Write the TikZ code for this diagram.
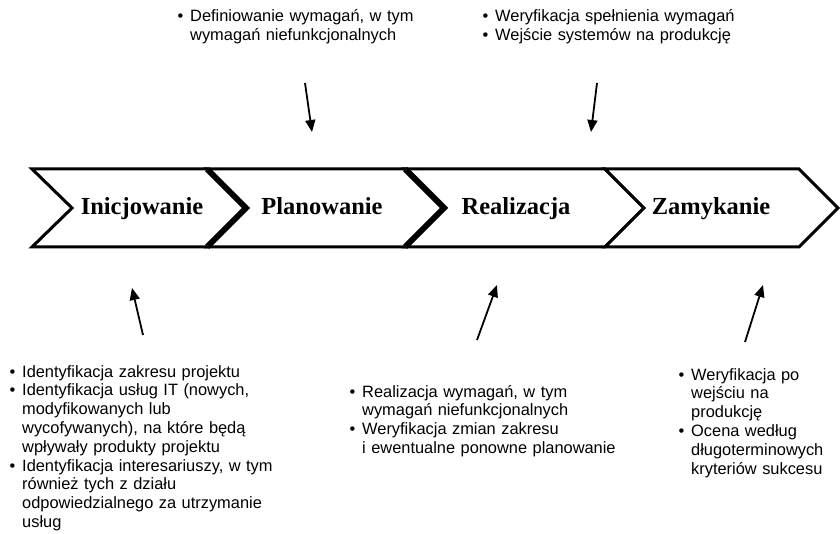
\documentclass[tikz,border=0pt]{standalone}
\usepackage{fontspec}
\setmainfont{Liberation Sans}
\newfontfamily\phasefont{Liberation Serif}
\usepackage{tikz}
\usetikzlibrary{arrows.meta}

% bullet with hanging indent (each bullet paragraph ends with \par)
\newcommand{\bul}{\hangindent=12.5pt\hangafter=1\noindent\makebox[12.5pt][l]{\textbullet}}

\begin{document}
\begin{tikzpicture}[
  x=1pt, y=-1pt,
  chev/.style={draw=black, fill=white, line width=3pt, line join=miter},
  seam/.style={draw=black, line width=6pt, line join=miter},
  phase/.style={font=\phasefont\bfseries\fontsize{24.5}{28}\selectfont, anchor=base, inner sep=0pt},
  notes/.style={anchor=base west, inner sep=0pt, text width=300pt, align=left, font=\fontsize{16.4}{18.8}\selectfont},
  arr/.style={-{Triangle[length=12pt,width=10pt]}, line width=1.8pt}
]
\useasboundingbox (0,0) rectangle (840,534);

% ---------- phase chevrons ----------
\draw[chev] (32,169) -- (207,169) -- (246,208) -- (207,247) -- (32,247) -- (72,208) -- cycle;
\draw[chev] (207,169) -- (405,169) -- (444,208) -- (405,247) -- (207,247) -- (246,208) -- cycle;
\draw[chev] (405,169) -- (605,169) -- (644,208) -- (605,247) -- (405,247) -- (444,208) -- cycle;
\draw[chev] (605,169) -- (799,169) -- (838,208) -- (799,247) -- (605,247) -- (644,208) -- cycle;
\draw[seam] (207,169) -- (246,208) -- (207,247);
\draw[seam] (405,169) -- (444,208) -- (405,247);

\node[phase] (ini) at (142,215) {Inicjowanie};
\node[phase] (plan) at (322,215) {Planowanie};
\node[phase] (real) at (516,215) {Realizacja};
\node[phase] (zam) at (711,215) {Zamykanie};

% ---------- notes above ----------
\node[notes] (nDef) at (177.5,22) {\bul Definiowanie wymagań, w tym\newline wymagań niefunkcjonalnych\par};
\node[notes] (nWer) at (482.5,22) {\bul Weryfikacja spełnienia wymagań\par
  \bul Wejście systemów na produkcję\par};

% ---------- notes below ----------
\node[notes] (nIni) at (9.5,377) {\bul Identyfikacja zakresu projektu\par
  \bul Identyfikacja usług IT (nowych,\newline modyfikowanych lub\newline wycofywanych), na które będą\newline wpływały produkty projektu\par
  \bul Identyfikacja interesariuszy, w tym\newline również tych z działu\newline odpowiedzialnego za utrzymanie\newline usług\par};
\node[notes] (nReal) at (349.5,397) {\bul Realizacja wymagań, w tym\newline wymagań niefunkcjonalnych\par
  \bul Weryfikacja zmian zakresu\newline i ewentualne ponowne planowanie\par};
\node[notes] (nZam) at (678.5,380) {\bul Weryfikacja po\newline wejściu na\newline produkcję\par
  \bul Ocena według\newline długoterminowych\newline kryteriów sukcesu\par};

% ---------- arrows ----------
\coordinate (defFrom) at (305,83);
\coordinate (defTo) at (312,132);
\coordinate (werFrom) at (597,83);
\coordinate (werTo) at (591,132);
\coordinate (iniFrom) at (143,335);
\coordinate (iniTo) at (132,288);
\coordinate (realFrom) at (477,340);
\coordinate (realTo) at (497,285);
\coordinate (zamFrom) at (745,342);
\coordinate (zamTo) at (763,285);

\draw[arr] (defFrom) -- (defTo);
\draw[arr] (werFrom) -- (werTo);
\draw[arr] (iniFrom) -- (iniTo);
\draw[arr] (realFrom) -- (realTo);
\draw[arr] (zamFrom) -- (zamTo);
\end{tikzpicture}
\end{document}
